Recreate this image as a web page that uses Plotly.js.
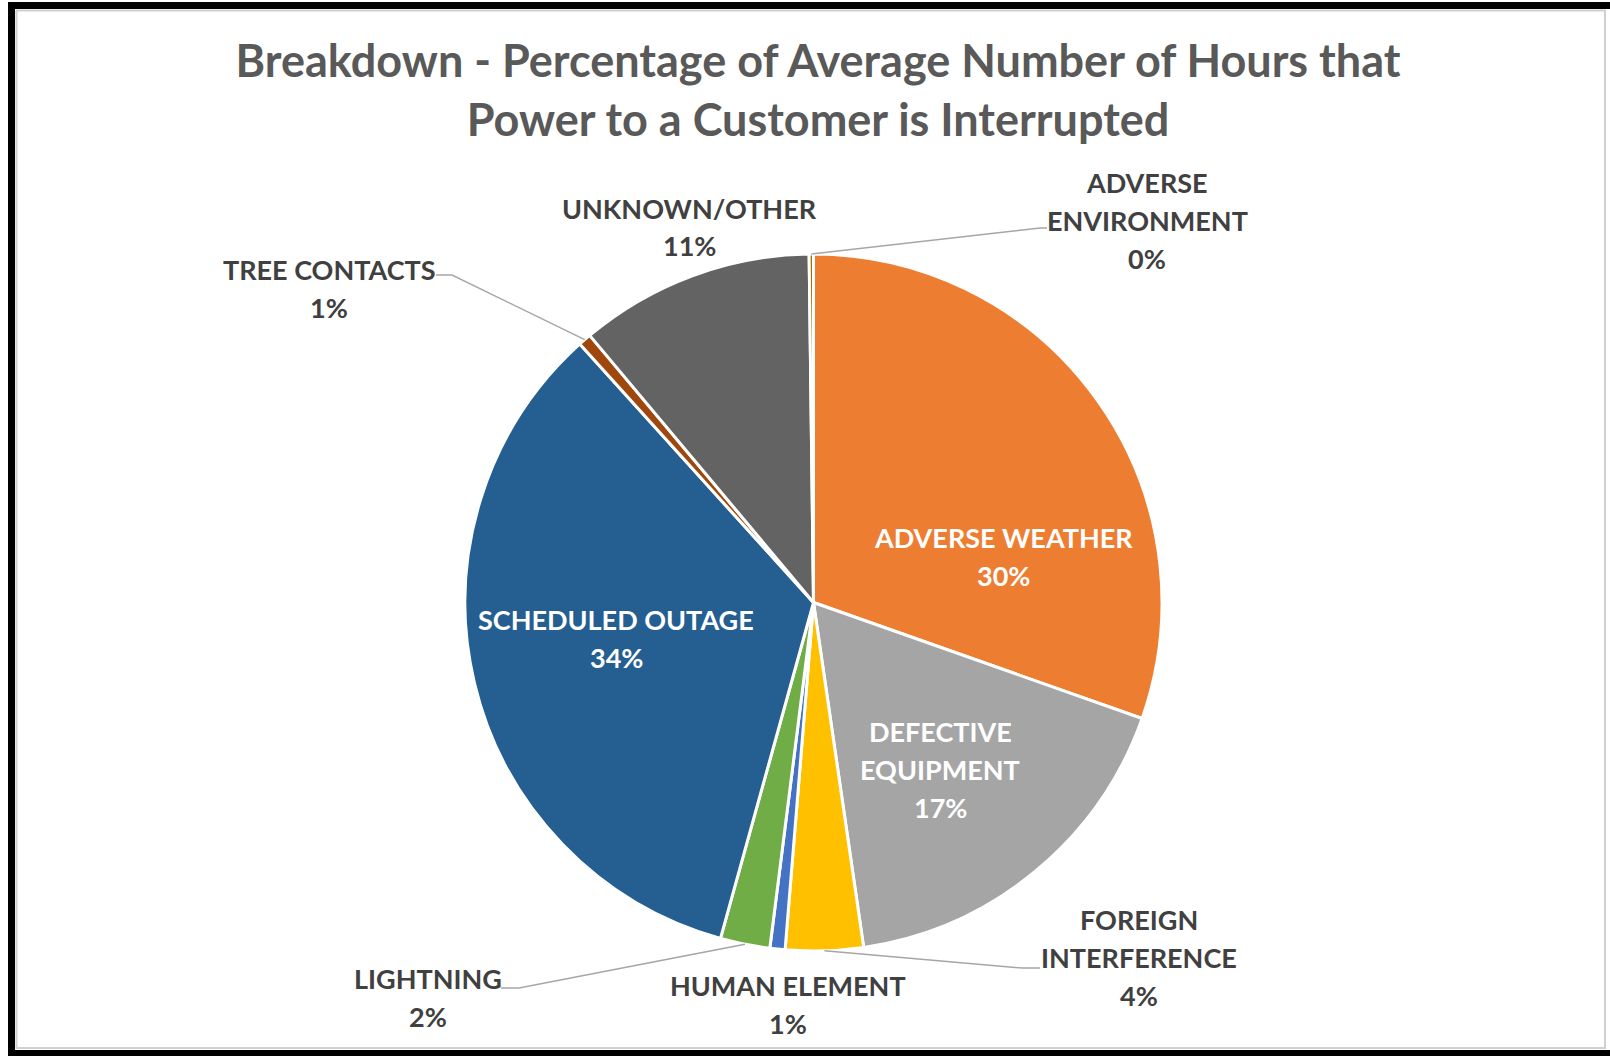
<!DOCTYPE html>
<html>
<head>
<meta charset="utf-8">
<script src="https://cdn.plot.ly/plotly-3.0.1.min.js"></script>
<style>
  html, body { margin: 0; padding: 0; background: #ffffff; }
  #chart { width: 1610px; height: 1056px; }
</style>
</head>
<body>
<div id="chart"></div>
<script>
// ---- data ----
const categories = [
  "ADVERSE WEATHER",
  "DEFECTIVE EQUIPMENT",
  "FOREIGN INTERFERENCE",
  "HUMAN ELEMENT",
  "LIGHTNING",
  "SCHEDULED OUTAGE",
  "TREE CONTACTS",
  "UNKNOWN/OTHER",
  "ADVERSE ENVIRONMENT"
];
const shares = [30.4, 17.3, 3.6, 0.7, 2.3, 34.0, 0.6, 10.9, 0.2];
const colors = ["#ED7D31", "#A5A5A5", "#FFC000", "#4472C4", "#70AD47", "#255E91", "#9E480E", "#636363", "#997300"];
const titleText = "Breakdown - Percentage of Average Number of Hours that<br>Power to a Customer is Interrupted";

// ---- layout helpers ----
const W = 1610, H = 1056;
const px = x => x / W;
const py = y => 1 - y / H;
const cx = 813.5, cy = 602.5, R = 348.5;
const lineGap = 38;

const total = shares.reduce((a, b) => a + b, 0);
const pctText = shares.map(v => Math.round(v / total * 100) + "%");

// label placement (pixels) per slice
const wrapped = new Set(["DEFECTIVE EQUIPMENT", "FOREIGN INTERFERENCE", "ADVERSE ENVIRONMENT"]);
const labelPos = [
  {x: 1003, y: 556, inside: true},
  {x: 940,  y: 769, inside: true},
  {x: 1139, y: 957, inside: false, leader: [[1040, 968], [1022, 968]]},
  {x: 788,  y: 1004, inside: false},
  {x: 428,  y: 997, inside: false, leader: [[501, 988], [519, 988]]},
  {x: 616,  y: 638, inside: true},
  {x: 329,  y: 288, inside: false, leader: [[436, 275], [452, 275]]},
  {x: 689,  y: 227, inside: false},
  {x: 1147, y: 220, inside: false, leader: [[1047, 228], [1040, 228]]}
];

const annotations = [];
const shapes = [];
let cum = 0;
categories.forEach((c, i) => {
  const f = shares[i] / total;
  const mid = cum + f / 2;
  cum += f;
  const lines = (wrapped.has(c) ? c.split(" ") : [c]).concat([pctText[i]]);
  const p = labelPos[i];
  lines.forEach((t, k) => {
    annotations.push({
      x: px(p.x), y: py(p.y + (k - (lines.length - 1) / 2) * lineGap),
      xref: "paper", yref: "paper",
      xanchor: "center", yanchor: "middle", showarrow: false,
      text: t,
      font: {family: "Lato, 'Open Sans', sans-serif", size: 27, color: p.inside ? "#ffffff" : "#404040", weight: "bold"}
    });
  });
  if (p.leader) {
    const th = 2 * Math.PI * mid;
    const tx = cx + R * Math.sin(th);
    const ty = cy - R * Math.cos(th);
    const pts = [p.leader[0], p.leader[1], [tx, ty]];
    const path = pts.map((q, k) => (k ? "L" : "M") + px(q[0]).toFixed(5) + "," + py(q[1]).toFixed(5)).join(" ");
    shapes.push({type: "path", xref: "paper", yref: "paper", path: path,
      line: {color: "#A6A6A6", width: 1.5}});
  }
});

// chart frame
shapes.push({type: "rect", xref: "paper", yref: "paper",
  x0: px(16.5), x1: px(1605), y0: py(1048), y1: py(10.5),
  line: {color: "#D0D0D0", width: 2}, fillcolor: "rgba(0,0,0,0)"});
shapes.push({type: "rect", xref: "paper", yref: "paper",
  x0: px(11.5), x1: px(1640), y0: py(1053.5), y1: py(5.5),
  line: {color: "#000000", width: 7}, fillcolor: "rgba(0,0,0,0)"});

const trace = {
  type: "pie",
  labels: categories,
  values: shares,
  sort: false,
  direction: "clockwise",
  rotation: 0,
  textinfo: "none",
  hoverinfo: "none",
  marker: {colors: colors, line: {color: "#ffffff", width: 3}},
  domain: {x: [px(cx - R), px(cx + R)], y: [py(cy + R), py(cy - R)]},
  showlegend: false
};

const layout = {
  width: W, height: H,
  margin: {l: 0, r: 0, t: 0, b: 0},
  paper_bgcolor: "#ffffff",
  title: {
    text: titleText,
    x: px(818), xanchor: "center",
    y: py(77), yanchor: "middle",
    font: {family: "Lato, 'Open Sans', sans-serif", size: 45, color: "#595959", weight: "bold"}
  },
  annotations: annotations,
  shapes: shapes,
  showlegend: false
};

Plotly.newPlot("chart", [trace], layout, {displayModeBar: false, staticPlot: true});
</script>
</body>
</html>
